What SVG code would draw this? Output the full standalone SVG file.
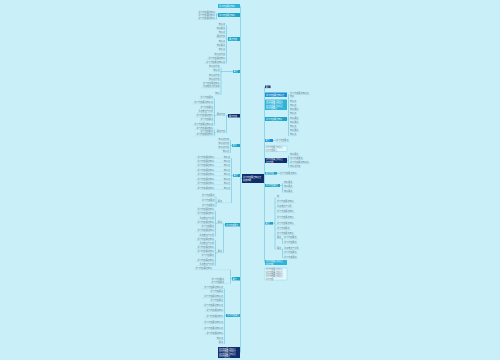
<svg xmlns="http://www.w3.org/2000/svg" width="500" height="360" viewBox="0 0 500 360">
<style>
.t{font-family:"Noto Sans CJK SC","Noto Sans",sans-serif;font-size:2.1px;fill:#66808b}
.e{text-anchor:end}
.w{font-family:"Noto Sans CJK SC","Noto Sans",sans-serif;font-size:2px;fill:#ffffff}
.m{font-size:1.85px}
.tl{fill:#1ea4c9}
.nv{fill:#0f2c6c}
.bl{fill:#1c8ed3}
.sk{fill:#2fb3d8}
.lt{fill:#e4f7fc;stroke:#5cc0dc;stroke-width:.3}
.c{stroke:#3aaed0;stroke-width:.4;fill:none}
.u{stroke:#86cde2;stroke-width:.25;fill:none}
</style>
<rect width="500" height="360" fill="#c9eff9"/>
<g id="connectors">
<path class="c" d="M240.5 6V352.5M240.5 178.5H242M264.5 87V262.5"/>
<path class="c" d="M216.5 13.3V19.3M216.5 15H218M226.5 25.3V63.3M226.5 39H228M221 67.8V94.8M221 71.5H233M226.5 115.3V132.8M226.5 115.7H228M214.5 98.8V125.3M214.5 115.3H215.8M214.5 129.3V135.8M214.5 132.8H215.8M230.5 140.3V152.8M230.5 145.5H232M231.5 158.3V202.8M231.5 175.5H233M216 196.8V206.8M216 202.8H217.4M223.5 223.3V252.8M223.5 224.7H225M215.5 210.8V236.3M215.5 223.3H217.4M215.5 240.3V265.5M215.5 252.8H217.4M230.5 269.8V283.4M230.5 278.7H232M224.5 288.8V343.8M224.5 315.5H226"/>
<path class="c" d="M288.5 94.3V135.8M287 119H288.5M273 140.5H276M288.5 155.8V167.3M287 160.5H288.5M277 173.3H280M282.5 183.3V192.3M280 185.5H282.5M275 197.8V249.3M273 223.3H275M282.5 238.8V243.8M281.6 238.8H282.5M282.5 249.3V258.3M281.6 249.3H282.5"/>
<path class="u" d="M197 13.3H216.5M197 19.3H216.5M218.1 25.3H226.5M215.8 29.3H226.5M218.1 33.8H226.5M215.8 37.8H226.5M218.1 42.3H226.5M215.8 46.8H226.5M218.1 50.8H226.5M213.5 55.3H226.5M206.6 59.3H226.5M204.3 63.3H226.5M208 67.8H221M212.6 71.8H221M208 76.8H221M208 80.3H221M201.1 87.8H221M214.9 94.8H221M215.8 115.3H226.5M215.8 132.8H226.5M199.2 98.8H214.5M192.3 103.8H214.5M199.2 108.8H214.5M196.9 112.8H214.5M194.6 116.8H214.5M199.2 120.8H214.5M192.3 125.3H214.5M194.6 129.3H214.5M199.2 132.8H214.5M194.6 135.8H214.5M217.5 140.3H230.5M217.5 144.3H230.5M217.5 148.8H230.5M222.1 152.8H230.5M195.6 158.3H231.5M195.6 162.3H231.5M195.6 166.8H231.5M195.6 171.3H231.5M195.6 175.8H231.5M195.6 180.3H231.5M195.6 184.8H231.5M195.6 189.3H231.5M217.4 202.8H231.5M200.7 196.8H216M200.7 201.8H216M200.7 206.8H216M217.4 223.3H223.5M217.4 252.8H223.5M195.6 210.8H215.5M195.6 214.8H215.5M197.9 219.3H215.5M195.6 223.8H215.5M200.2 227.8H215.5M195.6 231.8H215.5M197.9 236.3H215.5M195.6 240.3H215.5M197.9 244.5H215.5M195.6 248.7H215.5M195.6 252.9H215.5M200.2 257.1H215.5M195.6 261.3H215.5M197.9 265.5H215.5M193.6 269.8H230.5M210.2 283.4H230.5M202.3 288.8H224.5M209.2 292.8H224.5M202.3 297.8H224.5M209.2 301.8H224.5M202.3 306.8H224.5M204.6 311.3H224.5M204.6 317.8H224.5M202.3 323.8H224.5M202.3 329.3H224.5M204.6 334.3H224.5M216.1 339.3H224.5M218.4 343.8H224.5"/>
<path class="u" d="M288.5 94.3H310.7M288.5 97.8H294.6M288.5 102.3H296.9M288.5 106.3H296.9M288.5 110.8H299.2M288.5 114.8H296.9M288.5 119.3H299.2M288.5 123.3H299.2M288.5 127.8H296.9M288.5 131.8H299.2M288.5 135.8H296.9M276 142.1H289.8M288.5 155.8H299.2M288.5 159.3H303.8M288.5 163.3H310.7M288.5 167.3H301.5M280 174.6H298.4M282.5 183.3H293.2M282.5 187.8H293.2M282.5 192.3H293.2M275 197.8H279.3M275 202.8H295.4M275 207.8H293.1M275 212.8H295.4M275 218.8H295.4M275 224.8H295.4M275 229.8H290.8M275 234.8H295.4M275 238.8H281.6M275 249.3H281.6M282.5 238.8H297.8M282.5 243.8H297.8M282.5 249.3H300.1M282.5 253.8H297.8M282.5 258.3H297.8"/>
</g>
<g id="center"><rect x="242" y="174" width="22" height="9" class="nv"/><text class="w" x="243" y="177.6">学习内容要点知识点</text><text class="w" x="243" y="180.9">总结归纳</text></g>
<g id="L1"><rect x="218" y="4" width="22" height="4" class="sk"/><text class="w" x="219" y="6.8">学习内容要点知识</text></g>
<g id="L2"><rect x="218" y="13" width="22" height="4" class="tl"/><text class="w" x="219" y="15.8">学习内容要点知识</text><text class="t e" x="215" y="12.5">学习内容要点知识</text><text class="t e" x="215" y="16.2">学习内容要点知识</text><text class="t e" x="215" y="18.8">学习内容要点知识</text></g>
<g id="L3"><rect x="228" y="37" width="12" height="4" class="tl"/><text class="w" x="229" y="39.8">要点内容</text>
<text class="t e" x="225" y="24.5">知识点</text><text class="t e" x="225" y="28.5">知识要点</text><text class="t e" x="225" y="33">知识点</text><text class="t e" x="225" y="37">要点内容</text><text class="t e" x="225" y="41.5">知识点</text><text class="t e" x="225" y="46">知识要点</text><text class="t e" x="225" y="50">知识点</text><text class="t e" x="225" y="54.5">知识点内容</text><text class="t e" x="225" y="58.5">学习内容要点知识</text><text class="t e" x="225" y="62.5">学习内容要点知识点</text></g>
<g id="L4"><rect x="233" y="70" width="7" height="3" class="tl"/><text class="w" x="233.6" y="72.3">要点</text>
<text class="t e" x="219.5" y="67">知识点内容</text><text class="t e" x="219.5" y="71">知识点</text><text class="t e" x="219.5" y="76">知识点内容</text><text class="t e" x="219.5" y="79.5">知识点内容</text><text class="t e" x="219.5" y="84.3">学习内容要点知识</text><text class="t e" x="219.5" y="87">重点难点分析讲解</text><text class="t e" x="219.5" y="94">知识</text></g>
<g id="L5"><rect x="228" y="114" width="12" height="3.5" class="nv"/><text class="w" x="229" y="116.5">要点内容</text>
<text class="t e" x="225" y="114.5">要点内容</text><text class="t e" x="225" y="132">要点内容</text>
<text class="t e" x="213" y="98">学习内容要点</text><text class="t e" x="213" y="103">学习内容要点知识点</text><text class="t e" x="213" y="108">学习内容要点</text><text class="t e" x="213" y="112">重点难点与分析</text><text class="t e" x="213" y="116">学习内容要点知识</text><text class="t e" x="213" y="120">学习内容要点</text><text class="t e" x="213" y="124.5">学习内容要点知识点</text>
<text class="t e" x="213" y="128.5">学习内容要点知识</text><text class="t e" x="213" y="132">学习内容要点</text><text class="t e" x="213" y="135">学习内容要点知识</text></g>
<g id="L6"><rect x="232" y="144" width="8" height="3" class="tl"/><text class="w" x="232.6" y="146.3">要点</text>
<text class="t e" x="229" y="139.5">知识点内容</text><text class="t e" x="229" y="143.5">知识点内容</text><text class="t e" x="229" y="148">知识点内容</text><text class="t e" x="229" y="152">知识点</text></g>
<g id="L7"><rect x="233" y="174" width="7" height="3" class="tl"/><text class="w" x="233.6" y="176.3">要点</text>
<text class="t e" x="230" y="157.5">知识点</text><text class="t e" x="230" y="161.5">知识点</text><text class="t e" x="230" y="166">知识点</text><text class="t e" x="230" y="170.5">知识点</text><text class="t e" x="230" y="175">知识点</text><text class="t e" x="230" y="179.5">知识点</text><text class="t e" x="230" y="184">知识点</text><text class="t e" x="230" y="188.5">知识点</text>
<text class="t e" x="214" y="157.5">学习内容要点知识</text><text class="t e" x="214" y="161.5">学习内容要点知识</text><text class="t e" x="214" y="166">学习内容要点知识</text><text class="t e" x="214" y="170.5">学习内容要点知识</text><text class="t e" x="214" y="175">学习内容要点知识</text><text class="t e" x="214" y="179.5">学习内容要点知识</text><text class="t e" x="214" y="184">学习内容要点知识</text><text class="t e" x="214" y="188.5">学习内容要点知识</text>
<text class="t e" x="222" y="202">要点</text><text class="t e" x="214.5" y="196">学习内容要点</text><text class="t e" x="214.5" y="201">学习内容要点</text><text class="t e" x="214.5" y="206">学习内容要点</text></g>
<g id="L8"><rect x="225" y="223" width="15" height="3.5" class="tl"/><text class="w" x="226" y="225.5">学习内容要点</text>
<text class="t e" x="222" y="222.5">要点</text><text class="t e" x="222" y="252">要点</text>
<text class="t e" x="214" y="210">学习内容要点知识</text><text class="t e" x="214" y="214">学习内容要点知识</text><text class="t e" x="214" y="218.5">重点难点与分析</text><text class="t e" x="214" y="223">学习内容要点知识</text><text class="t e" x="214" y="227">学习内容要点</text><text class="t e" x="214" y="231">学习内容要点知识</text><text class="t e" x="214" y="235.5">重点难点与分析</text>
<text class="t e" x="214" y="239.5">学习内容要点知识</text><text class="t e" x="214" y="243.7">重点难点与分析</text><text class="t e" x="214" y="247.9">学习内容要点知识</text><text class="t e" x="214" y="252.1">学习内容要点知识</text><text class="t e" x="214" y="256.3">学习内容要点</text><text class="t e" x="214" y="260.5">学习内容要点知识</text><text class="t e" x="214" y="264.7">重点难点与分析</text></g>
<g id="L9"><rect x="232" y="277" width="8" height="3.5" class="tl"/><text class="w" x="232.6" y="279.5">要点</text>
<text class="t e" x="212" y="269">学习内容要点知识</text><text class="t e" x="224" y="280">学习内容要点</text><text class="t e" x="224" y="282.6">学习内容要点</text></g>
<g id="L10"><rect x="226" y="314" width="14" height="3" class="tl"/><text class="w" x="227" y="316.3">学习内容要点</text>
<text class="t e" x="223" y="288">学习内容要点知识点</text><text class="t e" x="223" y="292">学习内容要点</text><text class="t e" x="223" y="297">学习内容要点知识点</text><text class="t e" x="223" y="301">学习内容要点</text><text class="t e" x="223" y="306">学习内容要点知识点</text><text class="t e" x="223" y="310.5">学习内容要点知识</text><text class="t e" x="223" y="317">学习内容要点知识</text><text class="t e" x="223" y="323">学习内容要点知识点</text><text class="t e" x="223" y="328.5">学习内容要点知识点</text><text class="t e" x="223" y="333.5">学习内容要点知识</text><text class="t e" x="223" y="338.5">知识点</text><text class="t e" x="223" y="343">要点</text></g>
<g id="L11"><rect x="218" y="347" width="22" height="11" class="nv"/><text class="w m" x="219" y="349.6">学习内容要点知识点</text><text class="w m" x="219" y="352.1">学习内容要点知识点</text><text class="w m" x="219" y="354.6">学习内容要点知识点</text><text class="w m" x="219" y="357.1">学习内容要点</text></g>
<g id="R0"><rect x="265" y="85.5" width="5.5" height="2.6" class="nv"/><text class="w m" x="265.7" y="87.5">要点</text></g>
<g id="R1"><rect x="265" y="92.5" width="22" height="4.5" class="bl"/><text class="w" x="266" y="95.5">学习内容要点知识点</text></g>
<g id="R2"><rect x="265" y="99.5" width="22" height="10.5" class="sk"/><text class="w m" x="266" y="101.9">学习内容要点知识点</text><text class="w m" x="266" y="104.4">学习内容要点知识点</text><text class="w m" x="266" y="106.9">学习内容要点知识点</text><text class="w m" x="266" y="109.4">学习内容要点</text></g>
<g id="R3"><rect x="265" y="117" width="22" height="4" class="tl"/><text class="w" x="266" y="119.8">学习内容要点知识</text>
<text class="t" x="290" y="93.5">学习内容要点知识点</text><text class="t" x="290" y="97">知识</text><text class="t" x="290" y="101.5">知识点</text><text class="t" x="290" y="105.5">知识点</text><text class="t" x="290" y="110">知识要点</text><text class="t" x="290" y="114">知识点</text><text class="t" x="290" y="118.5">知识要点</text><text class="t" x="290" y="122.5">知识要点</text><text class="t" x="290" y="127">知识点</text><text class="t" x="290" y="131">知识要点</text><text class="t" x="290" y="135">知识点</text></g>
<g id="R4"><rect x="265" y="139" width="8" height="3" class="bl"/><text class="w" x="265.6" y="141.3">要点</text><text class="t" x="276" y="141.3">学习内容要点</text></g>
<g id="R5"><rect x="265" y="146" width="22" height="5.5" class="lt"/><text class="t m" x="266" y="148.3">学习内容要点知识点</text><text class="t m" x="266" y="150.8">学习内容要点</text></g>
<g id="R6"><rect x="265" y="158" width="22" height="5" class="nv"/><text class="w m" x="266" y="160.1">学习内容要点知识点</text><text class="w m" x="266" y="162.6">学习内容</text>
<text class="t" x="290" y="155">知识要点</text><text class="t" x="290" y="158.5">学习内容要点</text><text class="t" x="290" y="162.5">学习内容要点知识点</text><text class="t" x="290" y="166.5">知识点内容</text></g>
<g id="R7"><rect x="265" y="172" width="12" height="2.6" class="tl"/><text class="w" x="265.8" y="174.1">要点内容</text><text class="t" x="280" y="173.8">学习内容要点知识</text></g>
<g id="R8"><rect x="265" y="184" width="15" height="3" class="tl"/><text class="w" x="265.8" y="186.3">学习内容要点</text>
<text class="t" x="284" y="182.5">知识要点</text><text class="t" x="284" y="187">知识要点</text><text class="t" x="284" y="191.5">知识要点</text></g>
<g id="R9"><rect x="265" y="222" width="8" height="2.6" class="tl"/><text class="w" x="265.6" y="224.1">要点</text>
<text class="t" x="277" y="197">知</text><text class="t" x="277" y="202">学习内容要点知识</text><text class="t" x="277" y="207">重点难点与分析</text><text class="t" x="277" y="212">学习内容要点知识</text><text class="t" x="277" y="218">学习内容要点知识</text><text class="t" x="277" y="224">学习内容要点知识</text><text class="t" x="277" y="229">学习内容要点</text><text class="t" x="277" y="234">学习内容要点知识</text>
<text class="t" x="277" y="238">要点</text><text class="t" x="277" y="248.5">要点</text>
<text class="t" x="284" y="238">学习内容要点</text><text class="t" x="284" y="243">学习内容要点</text><text class="t" x="284" y="248.5">重点难点与分析</text><text class="t" x="284" y="253">学习内容要点</text><text class="t" x="284" y="257.5">学习内容要点</text></g>
<g id="R10"><rect x="265" y="260" width="22" height="5" class="sk"/><text class="w m" x="266" y="262.1">学习内容要点知识点</text><text class="w m" x="266" y="264.6">学习内容</text></g>
<g id="R11"><rect x="265" y="268" width="22" height="12" class="lt"/><text class="t m" x="266" y="270.3">学习内容要点知识点</text><text class="t m" x="266" y="272.6">学习内容要点知识点</text><text class="t m" x="266" y="274.9">学习内容要点知识点</text><text class="t m" x="266" y="277.2">学习内容要点知识点</text><text class="t m" x="266" y="279.5">学习内容</text></g>
</svg>
